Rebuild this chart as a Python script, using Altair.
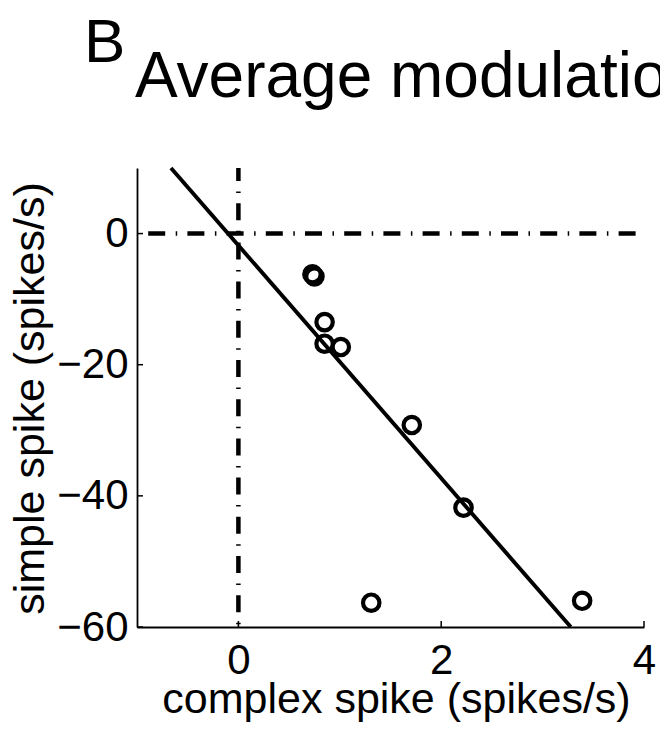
import altair as alt
import pandas as pd

# ---- data ----
x_domain = [-1, 4]
y_domain = [-60, 10]
x_ticks = [0, 2, 4]
y_ticks = [0, -20, -40, -60]

cs_rate = [0.73, 0.75, 0.85, 0.85, 1.01, 1.71, 2.22, 1.31, 3.39]
ss_rate = [-6.2, -6.55, -13.5, -16.8, -17.3, -29.2, -41.8, -56.3, -56.0]

fit_x = [-0.665, 3.278]
fit_y = [10.0, -60.0]

panel_label = "B"
title_text = "Average modulation"
x_title = "complex spike (spikes/s)"
y_title = "simple spike (spikes/s)"

FONT = "Liberation Sans"

xs = alt.Scale(domain=x_domain, nice=False, zero=False)
ys = alt.Scale(domain=y_domain, nice=False, zero=False)

ax_x = alt.Axis(
    values=x_ticks, format="d", title=x_title, grid=False,
    ticks=False, tickSize=0, labelPadding=13,
    labelFont=FONT, labelFontSize=42, labelColor="black",
    domainColor="black", domainWidth=1.8,
    titleFont=FONT, titleFontSize=43, titleFontWeight="normal", titleColor="black",
    titleX=259, titleY=85, titleBaseline="alphabetic", titleAlign="center",
    labelFlush=False, labelOverlap=False,
)
ax_y = alt.Axis(
    values=y_ticks, format="d", title=y_title, grid=False,
    ticks=False, tickSize=0, labelPadding=9,
    labelFont=FONT, labelFontSize=42, labelColor="black",
    domainColor="black", domainWidth=1.8,
    titleFont=FONT, titleFontSize=43, titleFontWeight="normal", titleColor="black",
    titleX=-94, titleY=230, titleAngle=-90, titleBaseline="alphabetic",
    titleAlign="center", labelFlush=False, labelOverlap=False,
)


def X(field="cs"):
    return alt.X(f"{field}:Q", scale=xs, axis=ax_x, title=x_title)


def Y(field="ss"):
    return alt.Y(f"{field}:Q", scale=ys, axis=ax_y, title=y_title)


pts = pd.DataFrame({"cs": cs_rate, "ss": ss_rate})
fit = pd.DataFrame({"cs": fit_x, "ss": fit_y})
hline = pd.DataFrame({"cs": [x_domain[0]], "cs2": [x_domain[1]], "ss": [0]})
vline = pd.DataFrame({"cs": [0], "ss": [y_domain[1]], "ss2": [y_domain[0]]})
yt = pd.DataFrame({"cs": [x_domain[0]] * len(y_ticks), "ss": y_ticks})
xt = pd.DataFrame({"cs": x_ticks, "ss": [y_domain[0]] * len(x_ticks)})

dash = [17, 10.5, 1.5, 10.2]

h_rule = alt.Chart(hline).mark_rule(
    color="black", strokeWidth=4.5, strokeDash=dash, strokeDashOffset=28
).encode(x=X(), x2="cs2:Q", y=Y())

v_rule = alt.Chart(vline).mark_rule(
    color="black", strokeWidth=4.5, strokeDash=dash, strokeDashOffset=4
).encode(x=X(), y=Y(), y2="ss2:Q")

fit_line = alt.Chart(fit).mark_line(color="black", strokeWidth=3.9).encode(
    x=X(), y=Y()
)

points = alt.Chart(pts).mark_point(
    shape="circle", filled=False, size=270, strokeWidth=4.2, color="black", opacity=1
).encode(x=X(), y=Y())

y_tick_marks = alt.Chart(yt).mark_tick(
    orient="horizontal", size=6, thickness=1.5, xOffset=3, color="black", opacity=1
).encode(x=X(), y=Y())

x_tick_marks = alt.Chart(xt).mark_tick(
    orient="vertical", size=6, thickness=1.5, yOffset=-3, color="black", opacity=1
).encode(x=X(), y=Y())

label_b = alt.Chart(alt.Data(values=[{}])).mark_text(
    text=panel_label, font=FONT, fontSize=62, align="left",
    baseline="alphabetic", color="black"
).encode(x=alt.value(-53), y=alt.value(-106))

label_title = alt.Chart(alt.Data(values=[{}])).mark_text(
    text=title_text, font=FONT, fontSize=64, align="left",
    baseline="alphabetic", color="black"
).encode(x=alt.value(-2), y=alt.value(-71))

chart = alt.layer(
    h_rule, v_rule, fit_line, points, y_tick_marks, x_tick_marks,
    label_b, label_title,
).properties(
    width=507, height=459,
    padding={"left": 137, "top": 168, "right": 16, "bottom": 102},
    autosize=alt.AutoSizeParams(type="none"),
    background="white",
).configure(font=FONT).configure_view(stroke=None)

chart.save("out.html", embed_options={"renderer": "svg", "actions": False})
